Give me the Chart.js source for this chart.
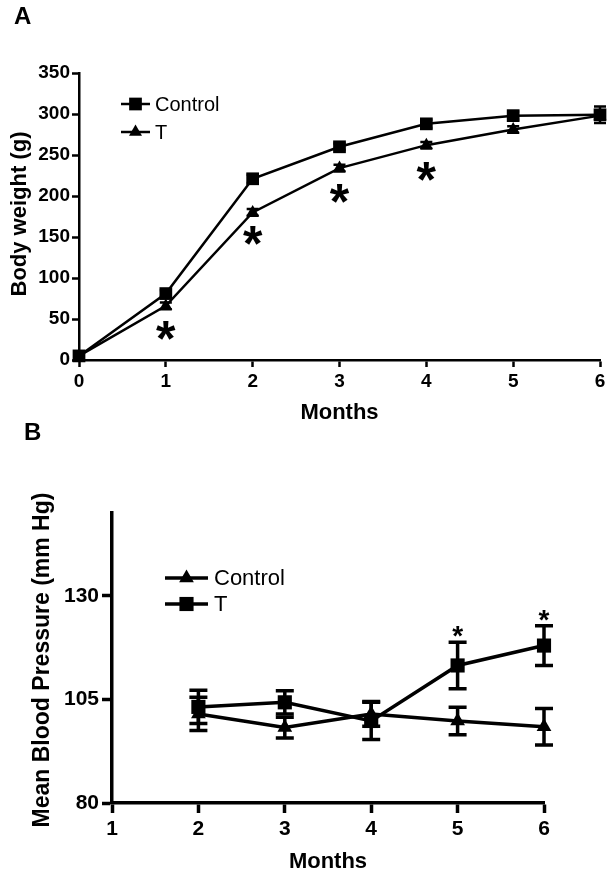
<!DOCTYPE html>
<html>
<head>
<meta charset="utf-8">
<script src="https://cdn.jsdelivr.net/npm/chart.js@4.4.0/dist/chart.umd.min.js"></script>
<style>
body { margin: 0; background: #fff; width: 614px; height: 877px; overflow: hidden; }
canvas { position: absolute; left: 0; }
#chartA { top: 0; }
#chartB { top: 420px; }
</style>
</head>
<body>
<canvas id="chartA" width="614" height="430"></canvas>
<canvas id="chartB" width="614" height="457"></canvas>
<script>
// panel A - body weight
var monthsA = [0, 1, 2, 3, 4, 5, 6];
var weightControl = [5, 81, 221, 260, 288, 298, 299];
var weightControlErr = [3, 4, 5, 4, 5, 5, 10];
var weightT = [5, 66, 180, 234, 262, 281, 298];
var weightTErr = [3, 4, 4, 4, 4, 4, 4];
var weightStars = [null, 40, 156, 207, 234, null, null];
var weightTicks = [0, 50, 100, 150, 200, 250, 300, 350];

// panel B - mean blood pressure
var monthsB = [2, 3, 4, 5, 6];
var bpControl = [101.5, 98.2, 101.5, 99.8, 98.4];
var bpControlErr = [4, 2.5, 3, 3.3, 4.4];
var bpT = [103.2, 104.3, 99.8, 113.2, 118];
var bpTErr = [4, 2.8, 4.5, 5.6, 4.8];
var bpStars = [null, null, null, 122, 126];
var bpTicks = [80, 105, 130];
var monthTicksB = [1, 2, 3, 4, 5, 6];

var ff = "'Liberation Sans', Arial, Helvetica, sans-serif";

function points(xs, ys) {
    return xs.map(function (x, i) { return {x: x, y: ys[i]}; });
}

function fixedTicks(vals) {
    return function (s) { s.ticks = vals.map(function (v) { return {value: v}; }); };
}

function marker(ctx, style, r, x, y) {
    ctx.beginPath();
    if (style == 'rect') {
        var s = Math.SQRT1_2 * r;
        ctx.rect(x - s, y - s, 2 * s, 2 * s);
    } else {
        ctx.moveTo(x, y - r);
        ctx.lineTo(x + Math.sin(2 * Math.PI / 3) * r, y + r / 2);
        ctx.lineTo(x - Math.sin(2 * Math.PI / 3) * r, y + r / 2);
        ctx.closePath();
    }
    ctx.fill();
}

function decor(cfg) {
    return {
        id: 'decor',
        beforeDatasetsDraw: function (chart) {
            var ctx = chart.ctx, xs = chart.scales.x, ys = chart.scales.y;
            ctx.save();
            ctx.strokeStyle = '#000';
            ctx.lineWidth = cfg.lineWidth;
            chart.data.datasets.forEach(function (ds) {
                ds.data.forEach(function (p, j) {
                    var e = ds.errors[j];
                    if (!e) return;
                    var x = xs.getPixelForValue(p.x);
                    var top = ys.getPixelForValue(p.y + e), bot = ys.getPixelForValue(p.y - e);
                    var h = cfg.cap / 2;
                    ctx.beginPath();
                    ctx.moveTo(x, top); ctx.lineTo(x, bot);
                    ctx.moveTo(x - h, top); ctx.lineTo(x + h, top);
                    ctx.moveTo(x - h, bot); ctx.lineTo(x + h, bot);
                    ctx.stroke();
                });
            });
            ctx.restore();
        },
        afterDatasetsDraw: function (chart) {
            var ctx = chart.ctx, xs = chart.scales.x, ys = chart.scales.y;
            ctx.save();
            ctx.fillStyle = '#000';
            ctx.strokeStyle = '#000';

            // significance stars
            ctx.font = 'bold ' + cfg.starSize + 'px ' + ff;
            ctx.textAlign = 'center';
            ctx.textBaseline = 'alphabetic';
            cfg.starX.forEach(function (m, i) {
                if (cfg.stars[i] == null) return;
                ctx.fillText('*', xs.getPixelForValue(m), ys.getPixelForValue(cfg.stars[i]) + 0.58 * cfg.starSize);
            });

            // legend
            ctx.lineWidth = cfg.lineWidth;
            ctx.font = cfg.legendSize + 'px ' + ff;
            ctx.textAlign = 'left';
            ctx.textBaseline = 'middle';
            cfg.legend.forEach(function (it, i) {
                var y = cfg.legendY[i];
                ctx.beginPath();
                ctx.moveTo(cfg.legendX[0], y);
                ctx.lineTo(cfg.legendX[1], y);
                ctx.stroke();
                marker(ctx, it.style, it.r, (cfg.legendX[0] + cfg.legendX[1]) / 2, y);
                ctx.fillText(it.label, cfg.legendX[2], y + 1);
            });

            // panel letter and axis titles
            ctx.font = 'bold 24px ' + ff;
            ctx.fillText(cfg.letter[0], cfg.letter[1], cfg.letter[2]);
            ctx.textAlign = 'center';
            ctx.font = 'bold ' + cfg.titleSize + 'px ' + ff;
            ctx.fillText(cfg.xTitle[0], cfg.xTitle[1], cfg.xTitle[2]);
            ctx.font = 'bold ' + cfg.yTitleSize + 'px ' + ff;
            ctx.translate(cfg.yTitle[1], cfg.yTitle[2]);
            ctx.rotate(-Math.PI / 2);
            ctx.fillText(cfg.yTitle[0], 0, 0);
            ctx.restore();
        }
    };
}

function axis(size, tickLen, pad, width, opts) {
    var a = {
        type: 'linear',
        ticks: {color: '#000', font: {family: ff, size: size, weight: 'bold'}, padding: pad},
        grid: {drawOnChartArea: false, drawTicks: true, tickLength: tickLen, tickWidth: width, tickColor: '#000'},
        border: {color: '#000', width: width}
    };
    for (var k in opts) a[k] = opts[k];
    return a;
}

new Chart(document.getElementById('chartA').getContext('2d'), {
    type: 'line',
    data: {
        datasets: [{
            label: 'Control',
            data: points(monthsA, weightControl),
            errors: weightControlErr,
            borderColor: '#000',
            backgroundColor: '#000',
            borderWidth: 2.5,
            pointStyle: 'rect',
            pointRadius: 9,
            pointBorderWidth: 0,
            clip: false
        }, {
            label: 'T',
            data: points(monthsA, weightT),
            errors: weightTErr,
            borderColor: '#000',
            backgroundColor: '#000',
            borderWidth: 2.5,
            pointStyle: 'triangle',
            pointRadius: 7.5,
            pointBorderWidth: 0,
            clip: false
        }]
    },
    options: {
        responsive: false,
        animation: false,
        devicePixelRatio: 1,
        events: [],
        layout: {padding: {top: 73, right: 14, left: 0, bottom: 0}},
        plugins: {legend: {display: false}, tooltip: {enabled: false}},
        scales: {
            x: axis(19, 7, 3, 2.5, {min: 0, max: 6, afterBuildTicks: fixedTicks(monthsA), afterFit: function (s) { s.height = 70; }}),
            y: axis(19, 7, 2, 2.5, {min: 0, max: 350, afterBuildTicks: fixedTicks(weightTicks), afterFit: function (s) { s.width = 79; }})
        }
    },
    plugins: [decor({
        lineWidth: 2.5, cap: 12,
        stars: weightStars, starX: monthsA, starSize: 50,
        legend: [{label: 'Control', style: 'rect', r: 9}, {label: 'T', style: 'triangle', r: 7.5}],
        legendX: [121, 150, 155], legendY: [104, 132], legendSize: 20,
        letter: ['A', 14, 17],
        titleSize: 22, yTitleSize: 22,
        xTitle: ['Months', 339.5, 413],
        yTitle: ['Body weight (g)', 20, 214]
    })]
});

new Chart(document.getElementById('chartB').getContext('2d'), {
    type: 'line',
    data: {
        datasets: [{
            label: 'Control',
            data: points(monthsB, bpControl),
            errors: bpControlErr,
            borderColor: '#000',
            backgroundColor: '#000',
            borderWidth: 3.5,
            pointStyle: 'triangle',
            pointRadius: 8.5,
            pointBorderWidth: 0,
            clip: false
        }, {
            label: 'T',
            data: points(monthsB, bpT),
            errors: bpTErr,
            borderColor: '#000',
            backgroundColor: '#000',
            borderWidth: 3.5,
            pointStyle: 'rect',
            pointRadius: 10,
            pointBorderWidth: 0,
            clip: false
        }]
    },
    options: {
        responsive: false,
        animation: false,
        devicePixelRatio: 1,
        events: [],
        layout: {padding: {top: 93, right: 70, left: 0, bottom: 0}},
        plugins: {legend: {display: false}, tooltip: {enabled: false}},
        scales: {
            x: axis(21, 10, 4, 3.5, {min: 1, max: 6, afterBuildTicks: fixedTicks(monthTicksB), afterFit: function (s) { s.height = 74; }}),
            y: axis(21, 10, 3, 3.5, {min: 80, max: 150, afterBuildTicks: fixedTicks(bpTicks), afterFit: function (s) { s.width = 112; }})
        }
    },
    plugins: [decor({
        lineWidth: 3.5, cap: 18,
        stars: bpStars, starX: monthsB, starSize: 28,
        legend: [{label: 'Control', style: 'triangle', r: 8.5}, {label: 'T', style: 'rect', r: 10}],
        legendX: [165, 208, 214], legendY: [158, 184], legendSize: 22,
        letter: ['B', 24, 13],
        titleSize: 22, yTitleSize: 23,
        xTitle: ['Months', 328, 442],
        yTitle: ['Mean Blood Pressure (mm Hg)', 43, 240]
    })]
});
</script>
</body>
</html>
